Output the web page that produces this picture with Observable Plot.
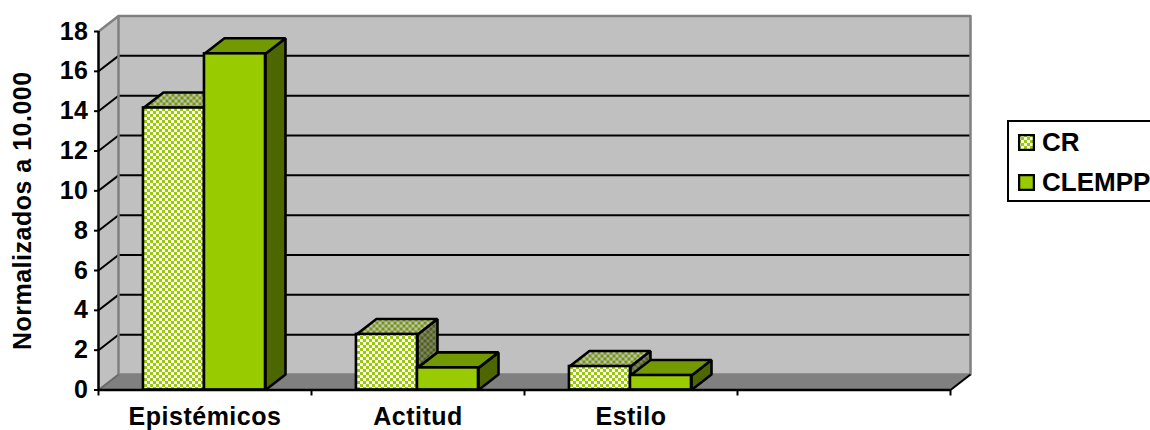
<!DOCTYPE html>
<html>
<head>
<meta charset="utf-8">
<script src="https://cdn.jsdelivr.net/npm/d3@7"></script>
<script src="https://cdn.jsdelivr.net/npm/@observablehq/plot@0.6"></script>
<style>
  html, body { margin: 0; padding: 0; background: #fff; width: 1150px; height: 430px; overflow: hidden; position: relative; }
  #legend { position: absolute; left: 1007px; top: 120px; width: 200px; height: 78px; border: 2px solid #000; background: #fff;
            font: bold 26px "Liberation Sans", Arial, sans-serif; color: #000; }
  #legend .row { position: absolute; left: 9px; height: 20px; display: flex; align-items: center; white-space: nowrap; }
  #legend svg { margin-right: 7px; display: block; }
  svg text { letter-spacing: 0.5px; }
</style>
</head>
<body>
<div id="chart"></div>
<div id="legend"></div>
<script>
const categories = ["Epistémicos", "Actitud", "Estilo"];
const seriesNames = ["CR", "CLEMPP"];
const crValues = [14.16, 2.79, 1.18];
const clemppValues = [16.88, 1.11, 0.73];
const yTicks = [0, 2, 4, 6, 8, 10, 12, 14, 16, 18];
const gridValues = [2, 4, 6, 8, 10, 12, 14, 16];
const categorySlots = [0, 1, 2, 3, 4];
const yTitle = "Normalizados a 10.000";

// oblique depth of the 3D box, in data units
const depthX = 0.0939, depthY = 0.778;
const gap = 0.211, barW = 0.2865;
const xMax = 4, yMax = 18;

const GREEN = "#99cc00", GREEN_TOP = "#739900", GREEN_SIDE = "#4d6600";
const WALL = "#c0c0c0", FLOOR = "#808080", EDGE = "#808080";
const FONT = '"Liberation Sans", Arial, sans-serif';
const CHECK = 3;

const poly = (pts) => pts.map(([x, y]) => ({x, y}));
const face = (pts, fill, stroke = "none", strokeWidth = 2.6) =>
  Plot.line(poly(pts), {x: "x", y: "y", curve: "linear-closed", fill, stroke, strokeWidth, strokeLinejoin: "miter"});

function patternDefs() {
  const defs = d3.create("svg:defs");
  const make = (id, a, b) => {
    const p = defs.append("pattern").attr("id", id).attr("patternUnits", "userSpaceOnUse")
      .attr("width", 2 * CHECK).attr("height", 2 * CHECK);
    p.append("rect").attr("width", 2 * CHECK).attr("height", 2 * CHECK).attr("fill", a);
    p.append("rect").attr("width", CHECK).attr("height", CHECK).attr("fill", b);
    p.append("rect").attr("x", CHECK).attr("y", CHECK).attr("width", CHECK).attr("height", CHECK).attr("fill", b);
  };
  make("crFront", "#ffffff", GREEN);
  make("crTop", "#bfbfbf", GREEN_TOP);
  make("crSide", "#808080", GREEN_SIDE);
  return defs.node();
}

function barMarks(i, s, v) {
  const x0 = i + gap + s * barW, x1 = x0 + barW;
  const [f, t, d] = s === 0 ? ["url(#crFront)", "url(#crTop)", "url(#crSide)"] : [GREEN, GREEN_TOP, GREEN_SIDE];
  return [
    face([[x1, 0], [x1 + depthX, depthY], [x1 + depthX, v + depthY], [x1, v]], d, "#000"),
    face([[x0, v], [x1, v], [x1 + depthX, v + depthY], [x0 + depthX, v + depthY]], t, "#000"),
    Plot.rect([{x1: x0, x2: x1, y1: 0, y2: v}], {x1: "x1", x2: "x2", y1: "y1", y2: "y2", fill: f, stroke: "#000", strokeWidth: 2.6})
  ];
}

const bars = categories.flatMap((_, i) => [...barMarks(i, 0, crValues[i]), ...barMarks(i, 1, clemppValues[i])]);

const chart = Plot.plot({
  width: 1150, height: 430,
  marginLeft: 98, marginRight: 200, marginTop: 31, marginBottom: 40.5,
  style: {background: "#fff", fontFamily: FONT, color: "#000", overflow: "hidden"},
  x: {type: "linear", domain: [0, xMax]},
  y: {type: "linear", domain: [0, yMax]},
  marks: [
    patternDefs,
    // walls and floor
    face([[depthX, depthY], [xMax + depthX, depthY], [xMax + depthX, yMax + depthY], [depthX, yMax + depthY]], WALL),
    face([[0, 0], [depthX, depthY], [depthX, yMax + depthY], [0, yMax]], WALL),
    face([[0, 0], [xMax, 0], [xMax + depthX, depthY], [depthX, depthY]], FLOOR),
    // grid on back wall and side wall
    Plot.link(gridValues, {x1: depthX, x2: xMax + depthX, y1: (d) => d + depthY, y2: (d) => d + depthY, stroke: "#000", strokeWidth: 2}),
    Plot.link(gridValues, {x1: 0, x2: depthX, y1: (d) => d, y2: (d) => d + depthY, stroke: "#000", strokeWidth: 2}),
    // wall edges
    Plot.line(poly([[0, yMax], [depthX, yMax + depthY], [xMax + depthX, yMax + depthY], [xMax + depthX, depthY], [depthX, depthY], [depthX, yMax + depthY]]),
      {x: "x", y: "y", stroke: EDGE, strokeWidth: 2.5}),
    Plot.link([0], {x1: 0, x2: depthX, y1: 0, y2: depthY, stroke: "#6a6a6a", strokeWidth: 2}),
    Plot.link([0], {x1: xMax, x2: xMax + depthX, y1: 0, y2: depthY, stroke: "#000", strokeWidth: 2}),
    ...bars,
    // axes
    Plot.ruleX([0], {y1: 0, y2: yMax, stroke: "#000", strokeWidth: 2.5}),
    Plot.ruleY([0], {x1: 0, x2: xMax, stroke: "#000", strokeWidth: 2.5}),
    Plot.axisY({ticks: yTicks, tickSize: 4, tickPadding: 6, label: null, fontSize: 25, fontWeight: "bold", stroke: "#000", strokeWidth: 2, fill: "#000"}),
    Plot.axisX({ticks: categorySlots, tickSize: 6, tickFormat: () => "", label: null, stroke: "#000", strokeWidth: 2}),
    Plot.axisX({ticks: categories.map((_, i) => i + 0.5), tickSize: 0, tickPadding: 17, label: null,
      tickFormat: (d) => categories[Math.floor(d)], fontSize: 25, fontWeight: "bold", fill: "#000"}),
    Plot.text([yTitle], {text: (d) => d, y: [9], frameAnchor: "left", textAnchor: "middle", dx: -76, rotate: -90, fontSize: 25, fontWeight: "bold", fill: "#000"})
  ]
});
document.getElementById("chart").append(chart);

const legend = d3.select("#legend");
seriesNames.forEach((name, i) => {
  const row = legend.append("div").attr("class", "row").style("top", (i === 0 ? 10 : 50) + "px");
  const s = row.append("svg").attr("width", 17).attr("height", 17);
  s.append("rect").attr("x", 1).attr("y", 1).attr("width", 15).attr("height", 15)
    .attr("fill", i === 0 ? "url(#crFront)" : GREEN).attr("stroke", "#000").attr("stroke-width", 2.5);
  row.append("span").text(name);
});
</script>
</body>
</html>
